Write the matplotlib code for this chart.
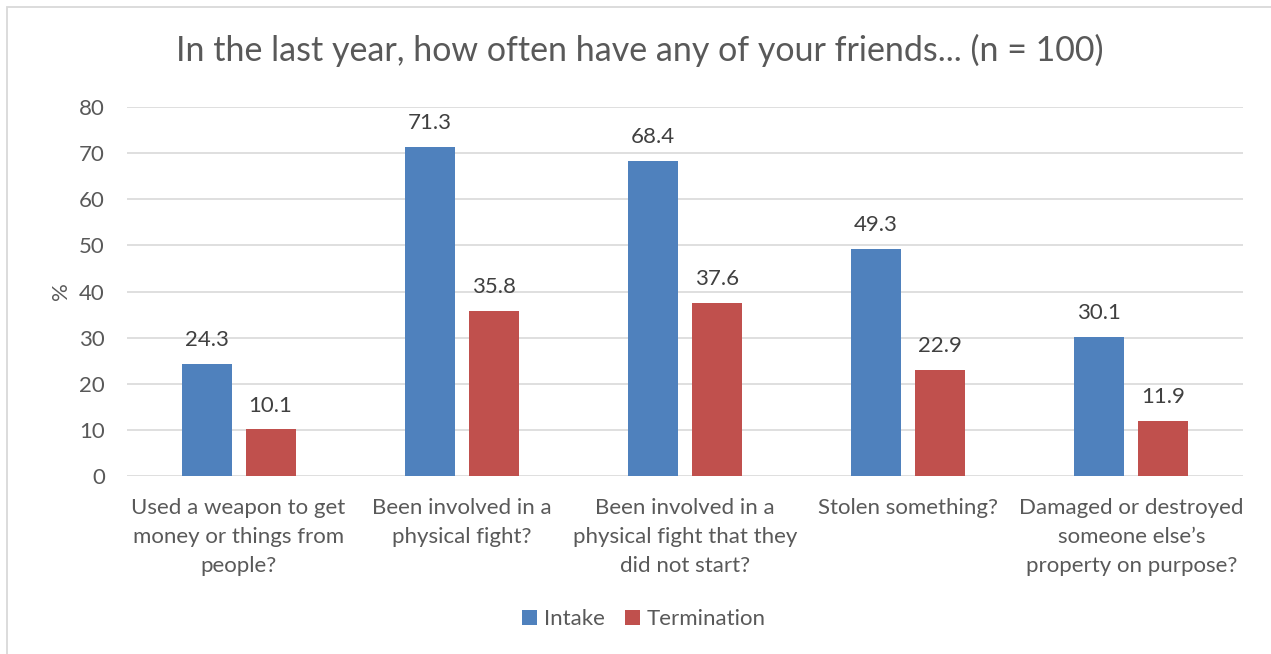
import matplotlib
matplotlib.use("Agg")
import matplotlib.pyplot as plt
import numpy as np
from matplotlib.patches import Rectangle

categories = [
    "Used a weapon to get\nmoney or things from\npeople?",
    "Been involved in a\nphysical fight?",
    "Been involved in a\nphysical fight that they\ndid not start?",
    "Stolen something?",
    "Damaged or destroyed\nsomeone else\u2019s\nproperty on purpose?",
]
intake = [24.3, 71.3, 68.4, 49.3, 30.1]
termination = [10.1, 35.8, 37.6, 22.9, 11.9]
series_names = ["Intake", "Termination"]
yticks = [0, 10, 20, 30, 40, 50, 60, 70, 80]
title = "In the last year, how often have any of your friends... (n = 100)"

plt.rcParams['font.family'] = ['Lato', 'DejaVu Sans']
txt = '#595959'
blue = '#4F81BD'
red = '#C0504D'

fig = plt.figure(figsize=(12.71, 6.54), dpi=100)
W, H = 1271, 654
ax = fig.add_axes([127 / W, 1 - 476 / H, (1243 - 127) / W, (476 - 107) / H])

x = np.arange(len(categories))
bw = 0.224
gap = 0.063
off = (bw + gap) / 2
b1 = ax.bar(x - off, intake, bw, color=blue, label=series_names[0], zorder=3)
b2 = ax.bar(x + off, termination, bw, color=red, label=series_names[1], zorder=3)
for bars, vals in ((b1, intake), (b2, termination)):
    for r, v in zip(bars, vals):
        ax.annotate(f"{v:.1f}", (r.get_x() + r.get_width() / 2, v),
                    xytext=(0, 10), textcoords='offset points',
                    ha='center', va='bottom', fontsize=16, color='#404040')

ax.set_xlim(-0.5, len(categories) - 0.5)
ax.set_ylim(0, 80)
ax.set_yticks(yticks)
ax.set_xticks(x)
ax.set_xticklabels(categories, fontsize=16, color=txt, linespacing=1.56)
ax.tick_params(axis='y', labelsize=16, labelcolor=txt, length=0, pad=16)
ax.tick_params(axis='x', length=0, pad=16)
ax.grid(axis='y', color='#D9D9D9', linewidth=1.2, zorder=0)
for s in ax.spines.values():
    s.set_visible(False)
ax.set_ylabel('%', fontsize=16, color=txt, labelpad=6)

fig.text(640 / W, 1 - 50 / H, title, ha='center', va='center', fontsize=24.5, color=txt)

leg = fig.legend(handles=[b1, b2], labels=series_names, loc='center',
                 bbox_to_anchor=(644 / W, 1 - 619 / H), ncol=2, frameon=False,
                 fontsize=16, handlelength=0.65, handleheight=0.65,
                 handletextpad=0.3, columnspacing=0.95)
for t in leg.get_texts():
    t.set_color(txt)

fig.patches.append(Rectangle((7 / W, -0.05), 1.1, 1 - 7 / H + 0.05,
                             transform=fig.transFigure, fill=False,
                             edgecolor='#D9D9D9', linewidth=1.3))

fig.savefig('out.png', dpi=100)
